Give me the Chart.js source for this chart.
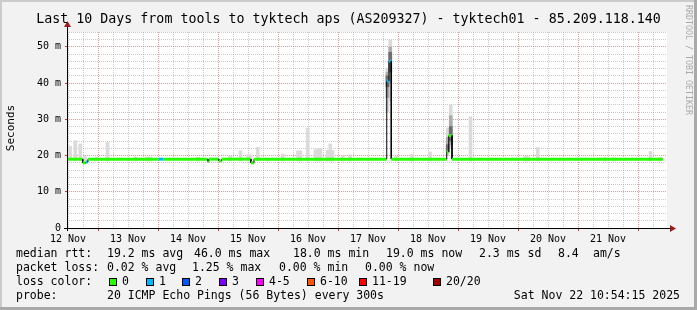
<!DOCTYPE html>
<html>
<head>
<meta charset="utf-8">
<title>Last 10 Days from tools to tyktech aps</title>
<script src="https://cdn.jsdelivr.net/npm/chart.js@4.4.1/dist/chart.umd.min.js"></script>
<style>
  html, body { margin: 0; padding: 0; background: #f2f2f2; }
  #pingChart { display: block; }
</style>
</head>
<body>
<canvas id="pingChart" width="697" height="310"></canvas>
<script>
// time axis is in hours counted from 12 Nov 00:00
const dayLabels = ['12 Nov', '13 Nov', '14 Nov', '15 Nov', '16 Nov', '17 Nov', '18 Nov', '19 Nov', '20 Nov', '21 Nov'];
const dayNoon = [12, 36, 60, 84, 108, 132, 156, 180, 204, 228];
const yTickValues = [0, 10, 20, 30, 40, 50];
const yTickLabels = ['0', '10 m', '20 m', '30 m', '40 m', '50 m'];

// median rtt (ms) as steps: start hour, value, loss class
const medianStart = [11.6, 17.9, 19.2, 20.0, 48.3, 50.3, 67.9, 68.4, 72.4, 73.5, 85.2, 86.4, 139.5, 140.4, 141.3, 163.5, 164.3, 165.6];
const medianMs    = [19.0, 18.0, 18.2, 19.0, 19.0, 19.0, 18.4, 19.0, 18.5, 19.0, 18.0, 19.0, 40.6, 46.0, 19.0, 21.0, 25.5, 19.0];
const medianLoss  = [0, 0, 1, 0, 1, 0, 0, 0, 0, 0, 0, 0, 1, 1, 0, 0, 0, 0];
const medianEnd = 250.0;

// smoke (max ping) columns
const smokeHour = [12.8, 14.9, 16.9, 18.8, 23.2, 27.8, 39.0, 43.6, 44.8, 64.0, 76.9, 81.0, 84.0, 85.0, 87.9, 92.0,
  97.9, 104.0, 105.0, 107.9, 111.0, 112.2, 113.0, 115.8, 116.9, 117.8, 122.0, 124.8, 143.2, 149.7, 156.8,
  173.0, 194.8, 196.0, 199.9, 226.8, 230.4, 245.0, 248.8];
const smokeTop = [22.6, 24.1, 23.2, 19.8, 19.5, 23.6, 19.6, 19.6, 19.6, 19.5, 19.9, 21.3, 20.2, 20.2, 22.3, 19.3,
  20.4, 21.3, 21.3, 27.6, 21.6, 22.0, 22.0, 21.4, 23.2, 21.4, 19.9, 20.2, 19.7, 20.4, 21.0,
  30.7, 19.7, 19.7, 22.2, 19.4, 19.4, 21.1, 19.5];

// shaded smoke around the two spikes: outer, middle, core ranges (ms)
const spikeHour = [139.8, 140.9, 163.9, 165.1];
const spikeOuter = [[32, 44], [35, 52], [20, 27.6], [22, 34]];
const spikeMid = [[36, 43], [40, 50], [21, 25], [23, 31]];
const spikeCore = [[39, 42], [43, 48.5], [21, 23], [24, 28]];

const lossColors = ['#26ff00', '#00b8ff', '#0059ff', '#7e00ff', '#ff00ff', '#ff5500', '#ff0000', '#a10000'];
const lossLabels = ['0', '1', '2', '3', '4-5', '6-10', '11-19', '20/20'];

const titleText = 'Last 10 Days from tools to tyktech aps (AS209327) - tyktech01 - 85.209.118.140';
const rttStats = ['19.2 ms avg', '46.0 ms max', '18.0 ms min', '19.0 ms now', '2.3 ms sd', '8.4', 'am/s'];
const lossStats = ['0.02 % avg', '1.25 % max', '0.00 % min', '0.00 % now'];
const probeText = '20 ICMP Echo Pings (56 Bytes) every 300s';
const stampText = 'Sat Nov 22 10:54:15 2025';

const mono = "'DejaVu Sans Mono', monospace";

const medianPts = [];
medianStart.forEach(function (h, i) {
  const next = i + 1 < medianStart.length ? medianStart[i + 1] : medianEnd;
  medianPts.push({x: h, y: medianMs[i]}, {x: next, y: medianMs[i]});
});

const smokePts = smokeHour.map((h, i) => ({x: h, y: [18.5, smokeTop[i]]}));
const spikeData = ranges => spikeHour.map((h, i) => ({x: h, y: ranges[i]}));

const gridX = [];
for (let h = 12; h < 251; h += 6) gridX.push(h);
const gridY = [];
for (let v = 0; v <= 54; v += 2) gridY.push(v);

function smokeSet(data, color) {
  return {type: 'bar', data: data, backgroundColor: color, barThickness: 3, grouped: false, order: 3};
}

const rrdLook = {
  id: 'rrdLook',
  beforeDraw(chart) {
    const c = chart.ctx, a = chart.chartArea;
    c.save();
    c.fillStyle = '#f2f2f2';
    c.fillRect(0, 0, chart.width, chart.height);
    c.fillStyle = '#ffffff';
    c.fillRect(a.left, a.top, a.right - a.left, a.bottom - a.top);
    c.restore();
  },
  afterDraw(chart) {
    const c = chart.ctx, a = chart.chartArea;
    c.save();
    // axes
    c.strokeStyle = '#000';
    c.lineWidth = 1;
    c.beginPath();
    c.moveTo(a.left - 3, a.bottom + 0.5);
    c.lineTo(a.right + 3, a.bottom + 0.5);
    c.moveTo(a.left + 0.5, a.bottom + 3);
    c.lineTo(a.left + 0.5, a.top - 5);
    c.stroke();
    c.fillStyle = '#9b1c1c';
    c.beginPath();
    c.moveTo(a.right + 9, a.bottom + 0.5);
    c.lineTo(a.right + 3, a.bottom - 3);
    c.lineTo(a.right + 3, a.bottom + 4);
    c.fill();
    c.beginPath();
    c.moveTo(a.left + 0.5, a.top - 11);
    c.lineTo(a.left - 3, a.top - 5);
    c.lineTo(a.left + 4, a.top - 5);
    c.fill();

    // bevel frame
    c.fillStyle = '#cbcbcb';
    c.fillRect(0, 0, chart.width, 2);
    c.fillRect(0, 0, 2, chart.height);
    c.fillStyle = '#a9a9a9';
    c.fillRect(chart.width - 3, 0, 3, chart.height);
    c.fillRect(0, chart.height - 3, chart.width, 3);

    c.fillStyle = '#000';
    c.textBaseline = 'middle';
    c.font = '13.3px ' + mono;
    c.textAlign = 'center';
    c.fillText(titleText, 348.5, 20);

    c.save();
    c.translate(11, 128);
    c.rotate(-Math.PI / 2);
    c.font = '11px ' + mono;
    c.fillText('Seconds', 0, 0);
    c.restore();

    c.save();
    c.translate(688, 60);
    c.rotate(Math.PI / 2);
    c.font = '8.3px ' + mono;
    c.fillStyle = '#aaaaaa';
    c.fillText('RRDTOOL / TOBI OETIKER', 0, 0);
    c.restore();

    // legend block
    c.font = '11.5px ' + mono;
    c.textAlign = 'left';
    const rttX = [107, 194, 293, 386, 479, 558, 593];
    const lossX = [107, 192, 279, 365];
    const boxX = [109, 146, 182, 219, 256, 307, 359, 433];
    c.fillText('median rtt:', 16, 254);
    rttStats.forEach((t, i) => c.fillText(t, rttX[i], 254));
    c.fillText('packet loss:', 16, 268);
    lossStats.forEach((t, i) => c.fillText(t, lossX[i], 268));
    c.fillText('loss color:', 16, 282);
    lossLabels.forEach(function (t, i) {
      c.fillStyle = lossColors[i];
      c.fillRect(boxX[i], 278, 8, 8);
      c.strokeStyle = '#000';
      c.strokeRect(boxX[i] + 0.5, 278.5, 7, 7);
      c.fillStyle = '#000';
      c.fillText(t, boxX[i] + 13, 282);
    });
    c.fillText('probe:', 16, 296);
    c.fillText(probeText, 107, 296);
    c.textAlign = 'right';
    c.fillText(stampText, 680, 296);
    c.restore();
  }
};

const ctx = document.getElementById('pingChart').getContext('2d');

new Chart(ctx, {
  type: 'bar',
  data: {
    datasets: [
      {
        type: 'line',
        data: medianPts,
        borderColor: '#000',
        borderWidth: 3,
        pointRadius: 0,
        tension: 0,
        order: 0,
        segment: {
          borderColor: s => s.p0DataIndex % 2 === 1 ? '#000' : lossColors[medianLoss[s.p0DataIndex >> 1]],
          borderWidth: s => s.p0DataIndex % 2 === 1 ? 1 : 3
        }
      },
      smokeSet(spikeData(spikeCore), '#6e6e6e'),
      smokeSet(spikeData(spikeMid), '#acacac'),
      smokeSet(spikeData(spikeOuter), '#dadada'),
      smokeSet(smokePts, '#dadada')
    ]
  },
  options: {
    responsive: false,
    animation: false,
    devicePixelRatio: 1,
    events: [],
    layout: {padding: {top: 32, right: 30, left: 0, bottom: 0}},
    scales: {
      x: {
        type: 'linear',
        min: 11.6,
        max: 251.6,
        offset: false,
        afterBuildTicks: s => { s.ticks = gridX.map(v => ({value: v})); },
        afterFit: s => { s.height = 82; },
        ticks: {
          autoSkip: false,
          maxRotation: 0,
          padding: 2,
          color: '#000',
          font: {family: mono, size: 10},
          callback: v => (dayNoon.indexOf(v) >= 0 ? dayLabels[dayNoon.indexOf(v)] : '')
        },
        grid: {
          offset: false,
          color: c => (c.tick && c.tick.value % 24 === 0 ? 'rgba(240,80,80,0.6)' : 'rgba(150,150,150,0.5)'),
          tickColor: c => (c.tick && c.tick.value % 24 === 0 ? '#e03030' : 'rgba(0,0,0,0)'),
          tickLength: 3
        },
        border: {display: false, dash: [1, 1]}
      },
      y: {
        min: 0,
        max: 54.1,
        afterBuildTicks: s => { s.ticks = gridY.map(v => ({value: v})); },
        afterFit: s => { s.width = 67; },
        ticks: {
          autoSkip: false,
          padding: 4,
          color: '#000',
          font: {family: mono, size: 10},
          callback: v => (yTickValues.indexOf(v) >= 0 ? yTickLabels[yTickValues.indexOf(v)] : '')
        },
        grid: {
          offset: false,
          color: c => (c.tick && c.tick.value % 10 === 0 ? 'rgba(240,80,80,0.6)' : 'rgba(150,150,150,0.5)'),
          tickColor: c => (c.tick && c.tick.value % 10 === 0 ? '#e03030' : 'rgba(0,0,0,0)'),
          tickLength: 2
        },
        border: {display: false, dash: [1, 1]}
      }
    },
    plugins: {
      legend: {display: false},
      tooltip: {enabled: false},
      title: {display: false}
    }
  },
  plugins: [rrdLook]
});
</script>
</body>
</html>
